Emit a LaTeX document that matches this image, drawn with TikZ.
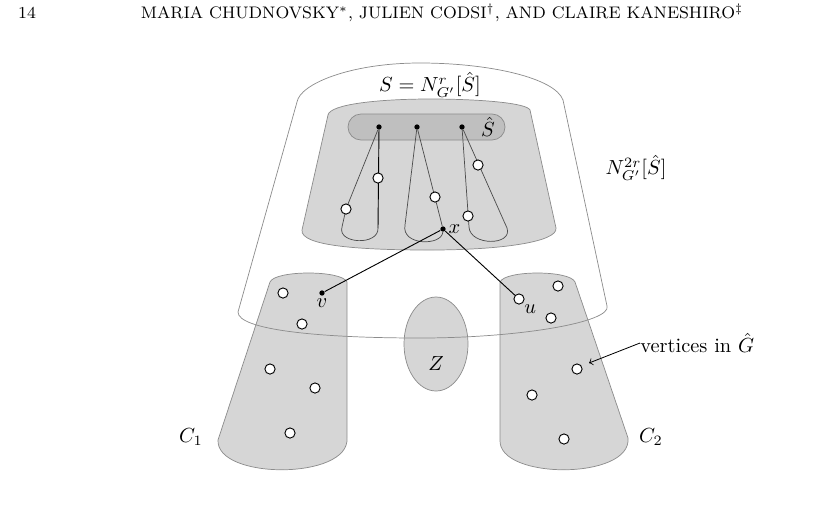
\documentclass[tikz,border=0pt]{standalone}
\usepackage{amsmath,amssymb,amsfonts}
\usepackage{tikz}

\begin{document}
\begin{tikzpicture}[x=0.49pt,y=-0.49pt,
  bv/.style={circle,fill=black,inner sep=0pt,minimum size=2.6pt},
  wv/.style={circle,draw=black,fill=white,inner sep=0pt,minimum size=5pt,line width=0.45pt},
  region/.style={draw=gray!90,line width=0.35pt},
  loopline/.style={draw=gray!60!black,line width=0.35pt},
  headfont/.style={font=\fontsize{8.2}{10}\selectfont}]
\useasboundingbox (0,0) rectangle (821,512);
% running head
\node [headfont,anchor=west] (pagenum) at(11,13){14};
\node [headfont] (head) at(442,13){MARIA CHUDNOVSKY$^*$, JULIEN CODSI$^\dagger$, AND CLAIRE KANESHIRO$^\ddagger$};
% gray regions
\fill[gray!32] (328,115) .. controls (330,104) and (380,99) .. (430,99) .. controls (480,99) and (527,103) .. (530,110)
  -- (556,228) .. controls (558,242) and (500,250) .. (430,250) .. controls (360,250) and (300,246) .. (302,230) -- cycle;
\draw[region] (328,115) .. controls (330,104) and (380,99) .. (430,99) .. controls (480,99) and (527,103) .. (530,110)
  -- (556,228) .. controls (558,242) and (500,250) .. (430,250) .. controls (360,250) and (300,246) .. (302,230) -- cycle;
\draw[region,fill=gray!50,rounded corners=13*0.49pt] (348,114) rectangle (505,140);
\draw[region,fill=gray!32] (270,282) .. controls (275,270) and (342,270) .. (347,282) -- (347,438)
  .. controls (350,480) and (216,480) .. (218,440) -- cycle;
\draw[region,fill=gray!32] (500,282) .. controls (505,270) and (570,270) .. (575,282) -- (628,438)
  .. controls (632,480) and (498,480) .. (500,440) -- cycle;
\draw[region,fill=gray!32] (436,344) ellipse [x radius=32,y radius=47];
% outer region
\draw[region] (297,102) .. controls (300,84) and (350,63) .. (420,63) .. controls (490,63) and (555,78) .. (563,100)
  -- (607,306) .. controls (612,322) and (520,338) .. (420,338) .. controls (320,338) and (238,330) .. (238,312) -- cycle;
% vertices of S hat
\node [bv] (s1) at(379,127){};
\node [bv] (s2) at(417,127){};
\node [bv] (s3) at(462,127){};
\node (shat) at(488,127){$\hat{S}$};
% paths
\node [bv] (x) at(443,229){};
\node [right,inner sep=1pt] (xlab) at(x.east){$x$};
\coordinate (a1) at(342,227); \coordinate (b1) at(378,228);
\coordinate (a2) at(405,225);
\coordinate (a3) at(469,227); \coordinate (b3) at(507,228);
\draw[loopline] (s1) -- (346,209) -- (a1) .. controls (337,244) and (379,246) .. (b1);
\draw[line width=0.45pt] (s1) -- (b1);
\draw[loopline] (s2) -- (a2) .. controls (401,246) and (442,246) .. (x) -- (s2);
\draw[loopline] (s3) -- (a3) .. controls (470,246) and (513,246) .. (b3) -- (s3);
\node [wv] (w1) at(346,209){};
\node [wv] (w2) at(378,178){};
\node [wv] (w3) at(435,197){};
\node [wv] (w4) at(468,216){};
\node [wv] (w5) at(478,165){};
% C1
\node [bv,label={[inner sep=1pt]below:$v$}] (v) at(322,293){};
\node [wv] (c1a) at(283,293){};
\node [wv] (c1b) at(302,324){};
\node [wv] (c1c) at(270,369){};
\node [wv] (c1d) at(315,388){};
\node [wv] (c1e) at(290,433){};
% C2
\node [wv,label={[inner sep=0.5pt]below right:$u$}] (u) at(519,299){};
\node [wv] (c2a) at(558,286){};
\node [wv] (c2b) at(551,318){};
\node [wv] (c2c) at(577,369){};
\node [wv] (c2d) at(532,395){};
\node [wv] (c2e) at(564,439){};
\draw[line width=0.45pt] (x) -- (v);
\draw[line width=0.45pt] (x) -- (u);
% labels
\node (lZ) at(436,364){$Z$};
\node (lC1) at(191,437){$C_1$};
\node (lC2) at(651,437){$C_2$};
\node (lS) at(430,85){$S=N^r_{G'}[\hat{S}]$};
\node (lN) at(636,168){$N^{2r}_{G'}[\hat{S}]$};
\node [anchor=west,inner sep=0pt] (vert) at(640,343){vertices in $\hat{G}$};
\draw[->,line width=0.4pt] (vert.west) -- (589,363);
\end{tikzpicture}
\end{document}
